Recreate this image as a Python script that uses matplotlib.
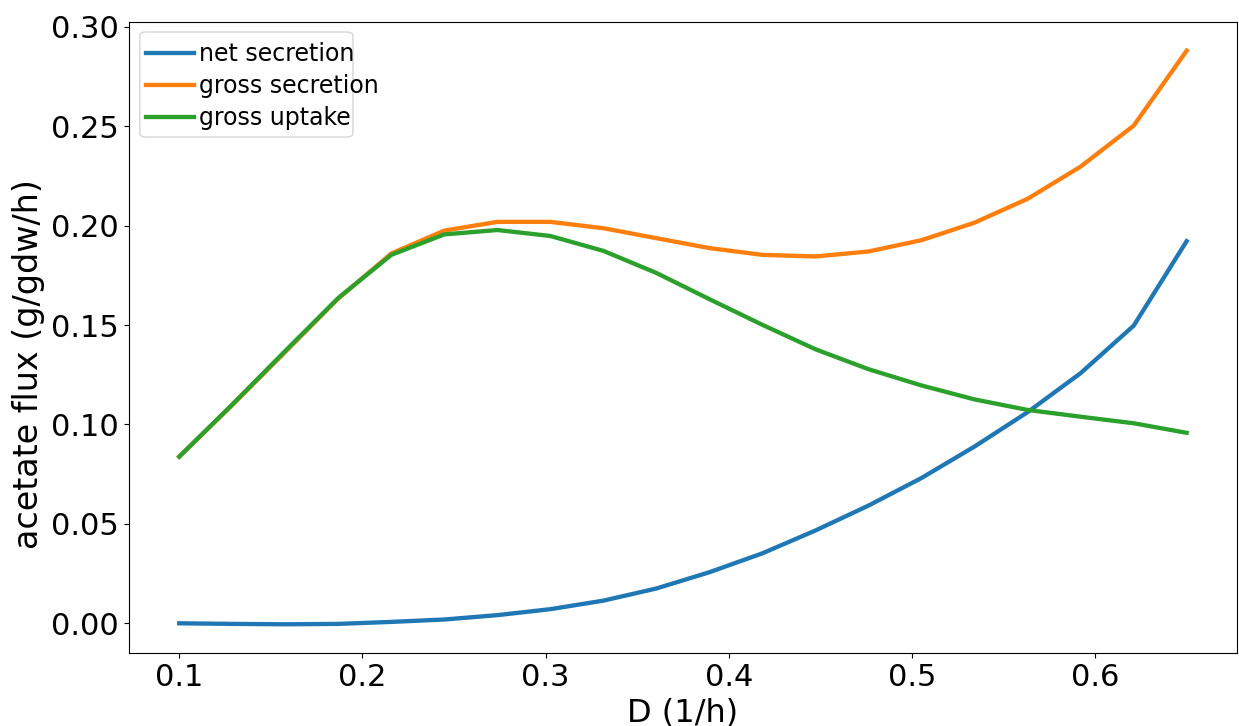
import numpy as np
import matplotlib
matplotlib.use('Agg')
import matplotlib.pyplot as plt
from matplotlib.patches import FancyBboxPatch

# dilution rates (1/h)
D = [0.1, 0.1289, 0.1579, 0.1868, 0.2158, 0.2447, 0.2737, 0.3026, 0.3316, 0.3605,
     0.3895, 0.4184, 0.4474, 0.4763, 0.5053, 0.5342, 0.5632, 0.5921, 0.6211, 0.65]

# acetate fluxes (g/gdw/h)
net_secretion = [0.0, -0.0003, -0.0005, -0.0003, 0.0007, 0.0019, 0.0041, 0.0071, 0.0114, 0.0175,
                 0.0257, 0.0352, 0.0467, 0.0592, 0.0731, 0.0889, 0.1062, 0.1258, 0.1497, 0.1922]
gross_secretion = [0.0838, 0.1097, 0.1365, 0.1633, 0.1860, 0.1975, 0.2019, 0.2019, 0.1987, 0.1937,
                   0.1887, 0.1853, 0.1845, 0.1870, 0.1927, 0.2015, 0.2135, 0.2297, 0.2503, 0.2880]
gross_uptake = [0.0838, 0.1100, 0.1370, 0.1636, 0.1853, 0.1956, 0.1978, 0.1948, 0.1873, 0.1762,
                0.1630, 0.1501, 0.1378, 0.1278, 0.1196, 0.1126, 0.1073, 0.1039, 0.1006, 0.0958]

fig = plt.figure(figsize=(12.39, 7.26), dpi=100)
ax = fig.add_axes([0.104, 0.1006, 0.8944, 0.8691])

ax.plot(D, net_secretion, lw=3.1, label='net secretion')
ax.plot(D, gross_secretion, lw=3.1, label='gross secretion')
ax.plot(D, gross_uptake, lw=3.1, label='gross uptake')

ax.set_xlabel('D (1/h)', fontsize=23)
ax.set_ylabel('acetate flux (g/gdw/h)', fontsize=24)
ax.yaxis.set_label_coords(-0.076, 0.458)
ax.tick_params(labelsize=22)

# legend frame is narrower than its text in the original
frame = FancyBboxPatch((0.0099, 0.8177), 0.1923, 0.1665, boxstyle='round,pad=0,rounding_size=0.006',
                       transform=ax.transAxes, facecolor='white', edgecolor='0.8', alpha=0.8, zorder=4)
ax.add_patch(frame)
ax.legend(loc='upper left', bbox_to_anchor=(0.0153, 0.9685), borderaxespad=0, borderpad=0,
          frameon=False, fontsize=17, handlelength=2.05, handletextpad=0.2, labelspacing=0.35)

fig.savefig('out.png', dpi=100)
